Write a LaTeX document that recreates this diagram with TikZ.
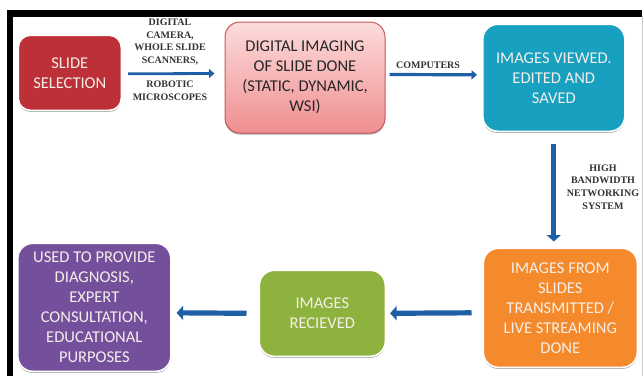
\documentclass[tikz,border=0pt]{standalone}
\usepackage{fontspec}
\setmainfont{Carlito}
\newfontfamily\lblfont{Liberation Serif}
\usetikzlibrary{shadows,arrows.meta,calc}
\definecolor{redbox}{HTML}{BE3038}
\definecolor{pinktop}{HTML}{FDDCDC}
\definecolor{pinkbot}{HTML}{F08E90}
\definecolor{pinkedge}{HTML}{C8595C}
\definecolor{tealbox}{HTML}{17A0C0}
\definecolor{orangebox}{HTML}{F58A2C}
\definecolor{greenbox}{HTML}{8DB33E}
\definecolor{purplebox}{HTML}{74509C}
\definecolor{arrowblue}{HTML}{1F5FA5}
\definecolor{softwhite}{HTML}{F4EFEA}
\tikzset{
  flowbox/.style={draw=white,line width=1.6pt,rounded corners=15pt,align=center,
    inner sep=0pt,anchor=north west,font=\fontsize{16.5}{20}\selectfont,text=softwhite,
    drop shadow={shadow xshift=0pt,shadow yshift=-1.6pt,opacity=.45,fill=black!70}},
  flowlink/.style={draw=arrowblue,line width=2.8pt,-{Triangle[length=5.5pt,width=9pt]}},
  biglink/.style={draw=arrowblue,line width=5.2pt,-{Triangle[length=6.5pt,width=14pt]}},
  linklabel/.style={font=\lblfont\bfseries\fontsize{10}{12.7}\selectfont,align=center,text=black!80,inner sep=0pt},
}
\begin{document}
\begin{tikzpicture}[x=1pt,y=-1pt]
\useasboundingbox (0,0) rectangle (644,376);
\fill[white] (0,0) rectangle (644,376);
% frame
\fill[black] (7,10) rectangle (642,16.5);
\fill[black] (7,10) rectangle (12.5,376);
\draw[black!20,line width=.8pt] (642.8,16) -- (642.8,376);
% boxes
\node[flowbox,rounded corners=12pt,fill=redbox,minimum width=103pt,minimum height=75pt] (slide) at (17.5,34.5) {SLIDE\\SELECTION};
\node[flowbox,top color=pinktop,bottom color=pinkbot,draw=pinkedge,line width=1pt,text=black!85,
      minimum width=160pt,minimum height=111pt] (imaging) at (224.5,21.5) {DIGITAL IMAGING\\OF SLIDE DONE\\(STATIC, DYNAMIC,\\WSI)};
\node[flowbox,fill=tealbox,minimum width=142pt,minimum height=107pt] (viewed) at (482,23.5) {IMAGES VIEWED.\\EDITED AND\\SAVED};
\node[flowbox,fill=orangebox,minimum width=154pt,minimum height=119pt] (sent) at (482.5,247.5) {IMAGES FROM\\SLIDES\\TRANSMITTED /\\LIVE STREAMING\\DONE};
\node[flowbox,fill=greenbox,minimum width=126pt,minimum height=86pt] (received) at (258.5,269.5) {IMAGES\\RECIEVED};
\node[flowbox,fill=purplebox,minimum width=153pt,minimum height=128pt] (used) at (17,242.5) {USED TO PROVIDE\\DIAGNOSIS,\\EXPERT\\CONSULTATION,\\EDUCATIONAL\\PURPOSES};
% connectors
\draw[flowlink] ([xshift=6pt,yshift=-1pt]slide.east) -- ([xshift=-10pt,yshift=4pt]imaging.west);
\draw[flowlink,line width=3.2pt] ([xshift=4pt,yshift=3pt]imaging.east) -- ([xshift=-5pt,yshift=3pt]viewed.west);
\draw[biglink] ([yshift=-12pt]viewed.south) -- ([xshift=-6.5pt,yshift=6pt]sent.north);
\draw[biglink] ([xshift=-11pt,yshift=-5pt]sent.west) -- ([xshift=4pt]received.east);
\draw[biglink] ([xshift=-12pt]received.west) -- ([xshift=5pt,yshift=-5.5pt]used.east);
% labels
\node[linklabel] (l1) at (170,42) {DIGITAL\\CAMERA,\\WHOLE SLIDE\\SCANNERS,};
\node[linklabel] (l2) at (170,90.5) {ROBOTIC\\MICROSCOPES};
\node[linklabel] (l3) at (428,65) {COMPUTERS};
\node[linklabel] (l4) at (603,187) {HIGH\\BANDWIDTH\\NETWORKING\\SYSTEM};
\end{tikzpicture}
\end{document}
